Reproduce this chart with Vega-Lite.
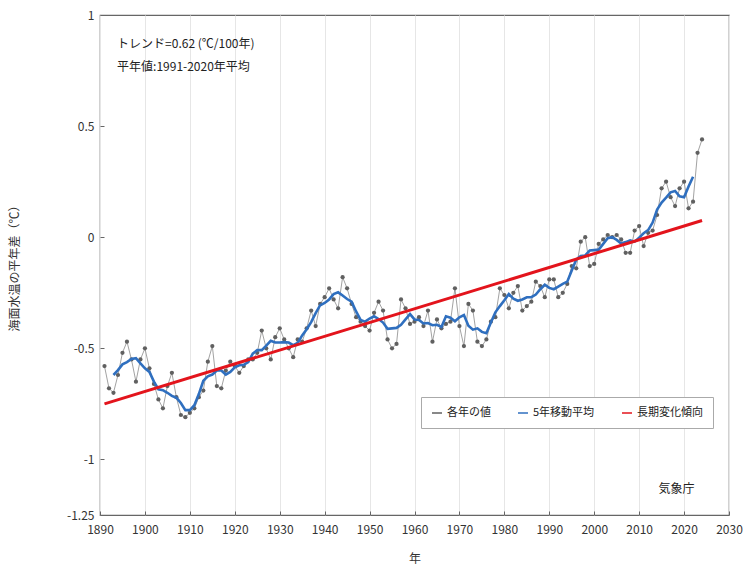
{
  "$schema": "https://vega.github.io/schema/vega-lite/v6.json",
  "width": 629,
  "height": 500,
  "autosize": "none",
  "padding": {"left": 100, "top": 15, "right": 18, "bottom": 52},
  "background": "white",
  "config": {
    "font": "Noto Sans CJK JP",
    "view": {"stroke": "#666", "strokeWidth": 1.2},
    "axis": {"labelFont": "Noto Sans CJK JP", "titleFont": "Noto Sans CJK JP", "labelColor": "#333", "titleColor": "#333", "labelFontSize": 12, "titleFontSize": 12, "titleFontWeight": "normal", "domain": false, "tickColor": "#666"}
  },
  "datasets": {
    "annual": [
      {"year": 1891, "value": -0.58}, {"year": 1892, "value": -0.68}, {"year": 1893, "value": -0.70}, {"year": 1894, "value": -0.62}, {"year": 1895, "value": -0.52},
      {"year": 1896, "value": -0.47}, {"year": 1897, "value": -0.55}, {"year": 1898, "value": -0.65}, {"year": 1899, "value": -0.55}, {"year": 1900, "value": -0.50},
      {"year": 1901, "value": -0.59}, {"year": 1902, "value": -0.66}, {"year": 1903, "value": -0.73}, {"year": 1904, "value": -0.77}, {"year": 1905, "value": -0.67},
      {"year": 1906, "value": -0.61}, {"year": 1907, "value": -0.72}, {"year": 1908, "value": -0.80}, {"year": 1909, "value": -0.81}, {"year": 1910, "value": -0.79},
      {"year": 1911, "value": -0.77}, {"year": 1912, "value": -0.72}, {"year": 1913, "value": -0.69}, {"year": 1914, "value": -0.56}, {"year": 1915, "value": -0.49},
      {"year": 1916, "value": -0.67}, {"year": 1917, "value": -0.68}, {"year": 1918, "value": -0.60}, {"year": 1919, "value": -0.56}, {"year": 1920, "value": -0.58},
      {"year": 1921, "value": -0.61}, {"year": 1922, "value": -0.58}, {"year": 1923, "value": -0.55}, {"year": 1924, "value": -0.55}, {"year": 1925, "value": -0.52},
      {"year": 1926, "value": -0.42}, {"year": 1927, "value": -0.50}, {"year": 1928, "value": -0.55}, {"year": 1929, "value": -0.45}, {"year": 1930, "value": -0.41},
      {"year": 1931, "value": -0.46}, {"year": 1932, "value": -0.50}, {"year": 1933, "value": -0.54}, {"year": 1934, "value": -0.46}, {"year": 1935, "value": -0.47},
      {"year": 1936, "value": -0.41}, {"year": 1937, "value": -0.33}, {"year": 1938, "value": -0.40}, {"year": 1939, "value": -0.30}, {"year": 1940, "value": -0.27},
      {"year": 1941, "value": -0.23}, {"year": 1942, "value": -0.28}, {"year": 1943, "value": -0.32}, {"year": 1944, "value": -0.18}, {"year": 1945, "value": -0.23},
      {"year": 1946, "value": -0.30}, {"year": 1947, "value": -0.36}, {"year": 1948, "value": -0.38}, {"year": 1949, "value": -0.40}, {"year": 1950, "value": -0.42},
      {"year": 1951, "value": -0.34}, {"year": 1952, "value": -0.29}, {"year": 1953, "value": -0.33}, {"year": 1954, "value": -0.46}, {"year": 1955, "value": -0.50},
      {"year": 1956, "value": -0.48}, {"year": 1957, "value": -0.28}, {"year": 1958, "value": -0.32}, {"year": 1959, "value": -0.39}, {"year": 1960, "value": -0.38},
      {"year": 1961, "value": -0.36}, {"year": 1962, "value": -0.40}, {"year": 1963, "value": -0.33}, {"year": 1964, "value": -0.47}, {"year": 1965, "value": -0.37},
      {"year": 1966, "value": -0.41}, {"year": 1967, "value": -0.39}, {"year": 1968, "value": -0.38}, {"year": 1969, "value": -0.23}, {"year": 1970, "value": -0.40},
      {"year": 1971, "value": -0.49}, {"year": 1972, "value": -0.30}, {"year": 1973, "value": -0.33}, {"year": 1974, "value": -0.47}, {"year": 1975, "value": -0.49},
      {"year": 1976, "value": -0.46}, {"year": 1977, "value": -0.38}, {"year": 1978, "value": -0.36}, {"year": 1979, "value": -0.23}, {"year": 1980, "value": -0.26},
      {"year": 1981, "value": -0.32}, {"year": 1982, "value": -0.25}, {"year": 1983, "value": -0.22}, {"year": 1984, "value": -0.33}, {"year": 1985, "value": -0.31},
      {"year": 1986, "value": -0.29}, {"year": 1987, "value": -0.20}, {"year": 1988, "value": -0.22}, {"year": 1989, "value": -0.27}, {"year": 1990, "value": -0.19},
      {"year": 1991, "value": -0.19}, {"year": 1992, "value": -0.27}, {"year": 1993, "value": -0.25}, {"year": 1994, "value": -0.21}, {"year": 1995, "value": -0.13},
      {"year": 1996, "value": -0.14}, {"year": 1997, "value": -0.02}, {"year": 1998, "value": 0.00}, {"year": 1999, "value": -0.13}, {"year": 2000, "value": -0.12},
      {"year": 2001, "value": -0.03}, {"year": 2002, "value": -0.01}, {"year": 2003, "value": 0.01}, {"year": 2004, "value": 0.00}, {"year": 2005, "value": 0.01},
      {"year": 2006, "value": -0.01}, {"year": 2007, "value": -0.07}, {"year": 2008, "value": -0.07}, {"year": 2009, "value": 0.03}, {"year": 2010, "value": 0.05},
      {"year": 2011, "value": -0.04}, {"year": 2012, "value": 0.02}, {"year": 2013, "value": 0.03}, {"year": 2014, "value": 0.10}, {"year": 2015, "value": 0.22},
      {"year": 2016, "value": 0.25}, {"year": 2017, "value": 0.18}, {"year": 2018, "value": 0.14}, {"year": 2019, "value": 0.22}, {"year": 2020, "value": 0.25},
      {"year": 2021, "value": 0.13}, {"year": 2022, "value": 0.16}, {"year": 2023, "value": 0.38}, {"year": 2024, "value": 0.44}
    ],
    "ma": [
      {"year": 1893, "value": -0.620}, {"year": 1894, "value": -0.598}, {"year": 1895, "value": -0.572}, {"year": 1896, "value": -0.562}, {"year": 1897, "value": -0.548},
      {"year": 1898, "value": -0.544}, {"year": 1899, "value": -0.568}, {"year": 1900, "value": -0.590}, {"year": 1901, "value": -0.606}, {"year": 1902, "value": -0.650},
      {"year": 1903, "value": -0.684}, {"year": 1904, "value": -0.688}, {"year": 1905, "value": -0.700}, {"year": 1906, "value": -0.714}, {"year": 1907, "value": -0.722},
      {"year": 1908, "value": -0.746}, {"year": 1909, "value": -0.778}, {"year": 1910, "value": -0.778}, {"year": 1911, "value": -0.756}, {"year": 1912, "value": -0.706},
      {"year": 1913, "value": -0.646}, {"year": 1914, "value": -0.626}, {"year": 1915, "value": -0.618}, {"year": 1916, "value": -0.600}, {"year": 1917, "value": -0.600},
      {"year": 1918, "value": -0.618}, {"year": 1919, "value": -0.606}, {"year": 1920, "value": -0.586}, {"year": 1921, "value": -0.576}, {"year": 1922, "value": -0.574},
      {"year": 1923, "value": -0.562}, {"year": 1924, "value": -0.524}, {"year": 1925, "value": -0.508}, {"year": 1926, "value": -0.508}, {"year": 1927, "value": -0.488},
      {"year": 1928, "value": -0.466}, {"year": 1929, "value": -0.474}, {"year": 1930, "value": -0.474}, {"year": 1931, "value": -0.472}, {"year": 1932, "value": -0.474},
      {"year": 1933, "value": -0.486}, {"year": 1934, "value": -0.476}, {"year": 1935, "value": -0.442}, {"year": 1936, "value": -0.414}, {"year": 1937, "value": -0.382},
      {"year": 1938, "value": -0.342}, {"year": 1939, "value": -0.306}, {"year": 1940, "value": -0.296}, {"year": 1941, "value": -0.280}, {"year": 1942, "value": -0.256},
      {"year": 1943, "value": -0.248}, {"year": 1944, "value": -0.262}, {"year": 1945, "value": -0.278}, {"year": 1946, "value": -0.290}, {"year": 1947, "value": -0.334},
      {"year": 1948, "value": -0.372}, {"year": 1949, "value": -0.380}, {"year": 1950, "value": -0.366}, {"year": 1951, "value": -0.356}, {"year": 1952, "value": -0.368},
      {"year": 1953, "value": -0.384}, {"year": 1954, "value": -0.412}, {"year": 1955, "value": -0.410}, {"year": 1956, "value": -0.408}, {"year": 1957, "value": -0.394},
      {"year": 1958, "value": -0.370}, {"year": 1959, "value": -0.346}, {"year": 1960, "value": -0.370}, {"year": 1961, "value": -0.372}, {"year": 1962, "value": -0.388},
      {"year": 1963, "value": -0.386}, {"year": 1964, "value": -0.396}, {"year": 1965, "value": -0.394}, {"year": 1966, "value": -0.404}, {"year": 1967, "value": -0.356},
      {"year": 1968, "value": -0.362}, {"year": 1969, "value": -0.378}, {"year": 1970, "value": -0.360}, {"year": 1971, "value": -0.350}, {"year": 1972, "value": -0.398},
      {"year": 1973, "value": -0.416}, {"year": 1974, "value": -0.410}, {"year": 1975, "value": -0.426}, {"year": 1976, "value": -0.432}, {"year": 1977, "value": -0.384},
      {"year": 1978, "value": -0.338}, {"year": 1979, "value": -0.310}, {"year": 1980, "value": -0.284}, {"year": 1981, "value": -0.256}, {"year": 1982, "value": -0.276},
      {"year": 1983, "value": -0.286}, {"year": 1984, "value": -0.280}, {"year": 1985, "value": -0.270}, {"year": 1986, "value": -0.270}, {"year": 1987, "value": -0.258},
      {"year": 1988, "value": -0.234}, {"year": 1989, "value": -0.214}, {"year": 1990, "value": -0.228}, {"year": 1991, "value": -0.234}, {"year": 1992, "value": -0.222},
      {"year": 1993, "value": -0.210}, {"year": 1994, "value": -0.200}, {"year": 1995, "value": -0.150}, {"year": 1996, "value": -0.100}, {"year": 1997, "value": -0.084},
      {"year": 1998, "value": -0.082}, {"year": 1999, "value": -0.060}, {"year": 2000, "value": -0.058}, {"year": 2001, "value": -0.056}, {"year": 2002, "value": -0.030},
      {"year": 2003, "value": -0.004}, {"year": 2004, "value": 0.000}, {"year": 2005, "value": -0.012}, {"year": 2006, "value": -0.028}, {"year": 2007, "value": -0.022},
      {"year": 2008, "value": -0.014}, {"year": 2009, "value": -0.020}, {"year": 2010, "value": -0.002}, {"year": 2011, "value": 0.018}, {"year": 2012, "value": 0.032},
      {"year": 2013, "value": 0.066}, {"year": 2014, "value": 0.124}, {"year": 2015, "value": 0.156}, {"year": 2016, "value": 0.178}, {"year": 2017, "value": 0.202},
      {"year": 2018, "value": 0.208}, {"year": 2019, "value": 0.184}, {"year": 2020, "value": 0.180}, {"year": 2021, "value": 0.228}, {"year": 2022, "value": 0.272}
    ],
    "trend": [
      {"year": 1891, "value": -0.750},
      {"year": 2024, "value": 0.075}
    ],
    "notes": [
      {"year": 1893.8, "value": 0.87, "text": "トレンド=0.62 (℃/100年)"},
      {"year": 1893.8, "value": 0.765, "text": "平年値:1991-2020年平均"},
      {"year": 2014.3, "value": -1.135, "text": "気象庁"}
    ]
  },
  "encoding": {
    "x": {
      "field": "year", "type": "quantitative",
      "scale": {"domain": [1890, 2030], "nice": false, "zero": false},
      "axis": {"title": "年", "values": [1890, 1900, 1910, 1920, 1930, 1940, 1950, 1960, 1970, 1980, 1990, 2000, 2010, 2020, 2030], "format": "d", "grid": true, "gridColor": "#e6e6e6", "gridWidth": 1, "tickSize": -4, "labelPadding": 13, "titlePadding": 18, "labelFlush": false}
    },
    "y": {
      "field": "value", "type": "quantitative",
      "scale": {"domain": [-1.25, 1], "nice": false, "zero": false},
      "axis": {"title": "海面水温の平年差（℃）", "values": [-1.25, -1, -0.5, 0, 0.5, 1], "labelExpr": "'' + datum.value", "grid": false, "tickSize": -4, "labelPadding": 10, "titlePadding": 45, "labelFlush": false}
    }
  },
  "layer": [
    {
      "data": {"name": "annual"},
      "mark": {"type": "line", "color": "#8a8a8a", "strokeWidth": 0.8},
      "encoding": {}
    },
    {
      "data": {"name": "annual"},
      "mark": {"type": "point", "filled": true, "size": 18, "opacity": 1},
      "encoding": {
        "color": {
          "datum": "各年の値",
          "scale": {"domain": ["各年の値", "5年移動平均", "長期変化傾向"], "range": ["#606060", "#2f6fbf", "#e3141c"]},
          "legend": {
            "title": null,
            "orient": "none",
            "legendX": 321,
            "legendY": 382,
            "direction": "horizontal",
            "columns": 3,
            "symbolType": "stroke",
            "fillColor": "white",
            "strokeColor": "#aaa",
            "padding": 10,
            "columnPadding": 24,
            "labelFontSize": 11,
            "labelColor": "#222",
            "labelFont": "Noto Sans CJK JP",
            "encode": {
              "symbols": {
                "update": {
                  "stroke": {"scale": "color", "field": "value"},
                  "size": [{"test": "datum.value === '各年の値'", "value": 16}, {"value": 600}],
                  "strokeWidth": [{"test": "datum.value === '各年の値'", "value": 4}, {"value": 3.5}]
                }
              }
            }
          }
        }
      }
    },
    {
      "data": {"name": "ma"},
      "mark": {"type": "line", "strokeWidth": 2.6},
      "encoding": {"color": {"datum": "5年移動平均"}}
    },
    {
      "data": {"name": "trend"},
      "mark": {"type": "line", "strokeWidth": 3},
      "encoding": {"color": {"datum": "長期変化傾向"}}
    },
    {
      "data": {"name": "notes"},
      "mark": {"type": "text", "fontSize": 12, "color": "#222", "baseline": "middle", "align": "left", "font": "Noto Sans CJK JP"},
      "encoding": {
        "text": {"field": "text"}
      }
    }
  ]
}
